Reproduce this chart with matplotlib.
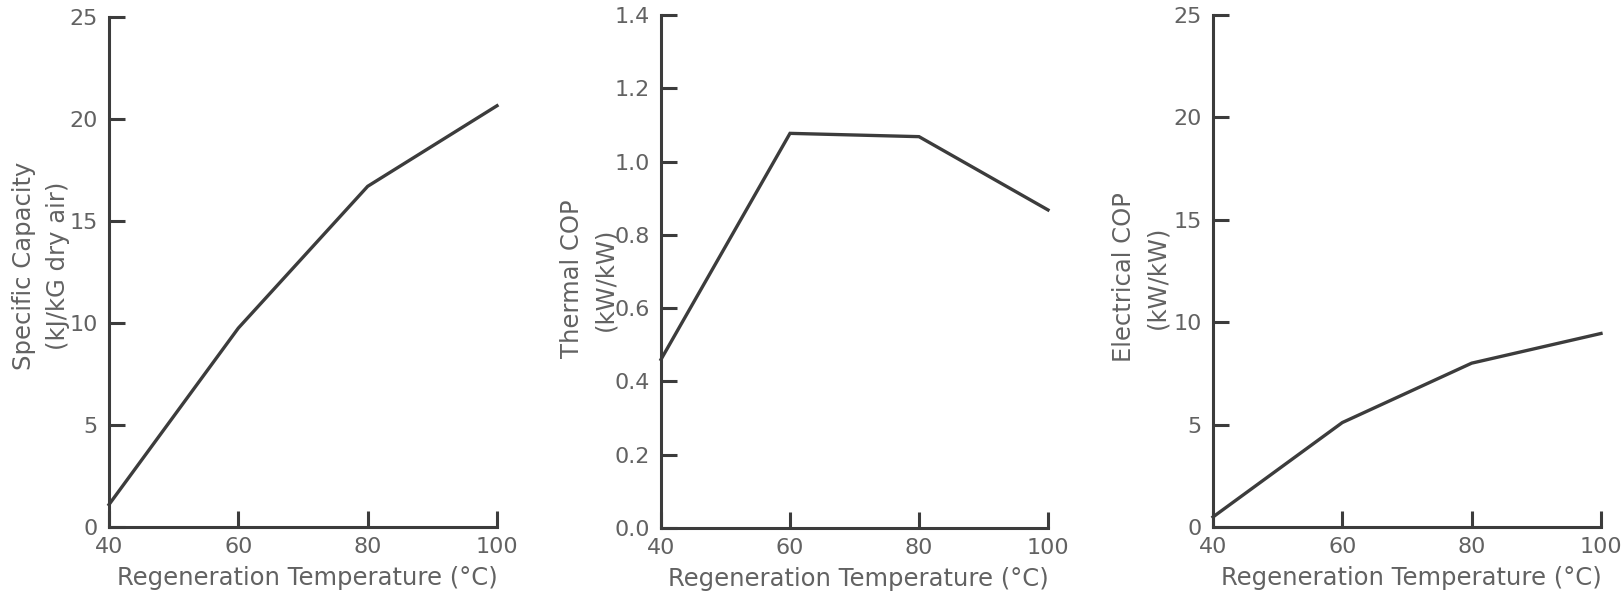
import numpy as np
import matplotlib
matplotlib.use('Agg')
import matplotlib.pyplot as plt

# regeneration temperature (deg C)
temps = [40, 60, 80, 100]

# values
spec_capacity = [1.1, 9.75, 16.7, 20.65]     # kJ/kG dry air
thermal_cop = [0.46, 1.077, 1.068, 0.868]    # kW/kW
elec_cop = [0.49, 5.1, 8.0, 9.45]            # kW/kW

xticks = [40, 60, 80, 100]
yticks_cap = [0, 5, 10, 15, 20, 25]
yticks_th = [0.0, 0.2, 0.4, 0.6, 0.8, 1.0, 1.2, 1.4]
yticks_el = [0, 5, 10, 15, 20, 25]

xlabel = 'Regeneration Temperature (°C)'
ylabels = ['Specific Capacity\n(kJ/kG dry air)',
           'Thermal COP\n(kW/kW)',
           'Electrical COP\n(kW/kW)']

text_col = '#626262'
line_col = '#3c3c3c'

plt.rcParams['font.family'] = ['DejaVu Sans']

W, H = 1623, 598
fig = plt.figure(figsize=(W / 100, H / 100), dpi=100)

# axes boxes in pixels: left, right, top, bottom
boxes = [(109, 497, 17, 527), (661, 1048, 15, 528), (1213, 1601, 15, 527)]
series = [spec_capacity, thermal_cop, elec_cop]
ytick_sets = [yticks_cap, yticks_th, yticks_el]
yfmt = ['{:.0f}', '{:.1f}', '{:.0f}']
# y-label centre (pixels) for each panel
ylab_pos = [(41, 266), (589, 279), (1141, 277)]

for i in range(3):
    l, r, t, b = boxes[i]
    ax = fig.add_axes([l / W, 1 - b / H, (r - l) / W, (b - t) / H])
    ax.plot(temps, series[i], color=line_col, lw=2.4, solid_joinstyle='miter',
            clip_on=False)
    yt = ytick_sets[i]
    ax.set_xlim(40, 100)
    ax.set_ylim(yt[0], yt[-1])
    ax.set_xticks(xticks)
    ax.set_yticks(yt)
    ax.set_yticklabels([yfmt[i].format(v) for v in yt])

    for s in ['top', 'right']:
        ax.spines[s].set_visible(False)
    for s in ['left', 'bottom']:
        ax.spines[s].set_linewidth(2.2)
        ax.spines[s].set_color(line_col)
        ax.spines[s].set_capstyle('projecting')

    ax.tick_params(direction='in', length=11.5, width=2.2, color=line_col,
                   labelcolor=text_col, labelsize=16)
    ax.tick_params(axis='y', pad=8)
    ax.tick_params(axis='x', pad=7.5)

    ax.set_xlabel(xlabel, color=text_col, fontsize=17.5, va='center')
    ax.xaxis.set_label_coords(0.51, -0.1)

    xc, yc = ylab_pos[i]
    fig.text(xc / W, 1 - yc / H, ylabels[i], rotation=90, ha='center',
             va='center', multialignment='center', color=text_col,
             fontsize=17.5, linespacing=1.5)

fig.savefig('out.png', dpi=100, facecolor='white')
